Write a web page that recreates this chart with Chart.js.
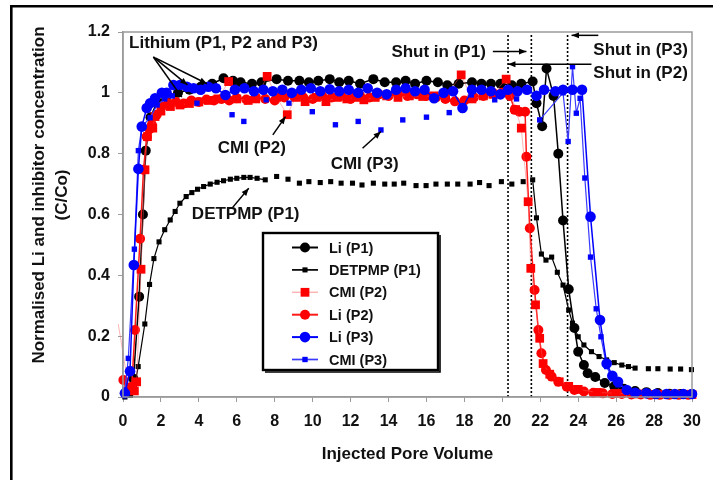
<!DOCTYPE html>
<html>
<head>
<meta charset="utf-8">
<script src="https://cdn.jsdelivr.net/npm/chart.js@4.4.0/dist/chart.umd.min.js"></script>
<style>
  html, body { margin: 0; padding: 0; background: #fff; }
  #wrap { width: 713px; height: 480px; }
</style>
</head>
<body>
<div id="wrap"><canvas id="poreChart" width="713" height="480"></canvas></div>
<script>
// values (x = injected pore volume, y = C/Co)
const liP1X = [0.3, 0.55, 0.85, 1.05, 1.2, 1.45, 1.8, 2.3, 2.9, 3.5, 4.1, 4.7, 5.3, 5.8, 6.2, 6.8, 7.3, 8.1, 8.7, 9.3, 9.8, 10.3, 10.9, 11.4, 11.9, 12.5, 13.2, 13.8, 14.4, 14.9, 15.4, 16.0, 16.6, 17.1, 17.7, 18.4, 18.9, 19.4, 19.9, 20.5, 21.0, 21.6, 21.8, 22.1, 22.33, 22.7, 22.95, 23.2, 23.5, 23.8, 24.0, 24.3, 24.5, 24.9, 25.4, 25.9, 26.4, 27.0, 27.6, 28.2, 28.8, 29.4, 30.0];
const liP1Y = [0.02, 0.06, 0.33, 0.60, 0.81, 0.92, 0.97, 0.99, 1.0, 1.01, 1.02, 1.03, 1.048, 1.04, 1.035, 1.03, 1.035, 1.045, 1.04, 1.04, 1.035, 1.04, 1.045, 1.035, 1.04, 1.03, 1.045, 1.035, 1.035, 1.04, 1.03, 1.04, 1.035, 1.025, 1.03, 1.035, 1.03, 1.03, 1.03, 1.025, 1.03, 1.037, 0.966, 0.89, 1.08, 0.99, 0.80, 0.58, 0.354, 0.227, 0.149, 0.105, 0.078, 0.066, 0.046, 0.035, 0.027, 0.02, 0.016, 0.013, 0.011, 0.01, 0.01];

const detpmpX = [0.1, 0.4, 0.6, 0.8, 1.15, 1.4, 1.63, 1.9, 2.2, 2.49, 2.75, 3.0, 3.33, 3.63, 3.93, 4.25, 4.6, 4.96, 5.3, 5.66, 6.0, 6.37, 6.7, 7.07, 7.5, 8.1, 8.7, 9.3, 9.8, 10.4, 10.95, 11.5, 12.1, 12.6, 13.2, 13.8, 14.3, 14.8, 15.45, 15.98, 16.5, 17.1, 17.65, 18.3, 18.8, 19.3, 19.95, 20.5, 21.1, 21.6, 21.8, 22.06, 22.3, 22.6, 22.9, 23.2, 23.5, 23.7, 24.0, 24.3, 24.7, 25.1, 25.5, 25.9, 26.3, 26.65, 27.0, 27.7, 28.2, 28.85, 29.4, 29.97];
const detpmpY = [0.0, 0.005, 0.03, 0.10, 0.24, 0.37, 0.455, 0.51, 0.55, 0.582, 0.61, 0.637, 0.659, 0.672, 0.683, 0.692, 0.70, 0.706, 0.711, 0.716, 0.719, 0.722, 0.722, 0.719, 0.714, 0.725, 0.716, 0.703, 0.708, 0.705, 0.708, 0.703, 0.703, 0.697, 0.703, 0.70, 0.70, 0.703, 0.695, 0.695, 0.70, 0.70, 0.70, 0.70, 0.705, 0.695, 0.708, 0.70, 0.708, 0.714, 0.589, 0.47, 0.45, 0.46, 0.41, 0.368, 0.286, 0.243, 0.198, 0.171, 0.149, 0.133, 0.122, 0.113, 0.105, 0.10, 0.095, 0.093, 0.093, 0.092, 0.092, 0.09];

const cmiP2X = [-0.25, 0.3, 0.6, 0.72, 0.95, 1.16, 1.29, 1.57, 1.69, 2.0, 2.5, 3.0, 3.5, 4.0, 4.5, 5.0, 5.57, 6.0, 6.6, 7.0, 7.6, 8.1, 8.66, 9.1, 9.6, 10.2, 10.7, 11.3, 11.8, 12.3, 12.7, 13.3, 13.9, 14.5, 15.1, 15.8, 16.4, 17.0, 17.83, 18.4, 19.0, 19.5, 20.2, 20.7, 21.0, 21.36, 21.5, 21.75, 21.97, 22.15, 22.5, 23.0, 23.5, 24.0, 25.0, 26.0, 27.0, 28.0, 29.0, 30.0];
const cmiP2Y = [0.24, 0.03, 0.02, 0.05, 0.42, 0.747, 0.856, 0.884, 0.922, 0.94, 0.955, 0.96, 0.965, 0.97, 0.975, 0.98, 1.037, 0.98, 0.975, 0.98, 1.054, 0.985, 0.928, 0.985, 0.971, 0.985, 0.971, 0.985, 0.98, 0.985, 0.977, 0.985, 0.99, 0.985, 0.99, 0.988, 0.99, 0.985, 1.059, 0.98, 0.99, 0.995, 1.045, 0.945, 0.884, 0.642, 0.423, 0.303, 0.193, 0.11, 0.075, 0.05, 0.035, 0.025, 0.015, 0.012, 0.01, 0.008, 0.008, 0.008];

const liP2X = [0.02, 0.46, 0.63, 0.9, 1.08, 1.25, 1.4, 1.52, 1.78, 2.05, 2.4, 2.8, 3.2, 3.6, 4.0, 4.4, 4.8, 5.2, 5.6, 6.0, 6.5, 7.0, 7.5, 8.0, 8.5, 9.0, 9.5, 10.0, 10.5, 11.0, 11.5, 12.0, 12.5, 13.0, 13.5, 14.0, 14.5, 15.0, 15.5, 16.0, 16.5, 17.0, 17.5, 18.0, 18.5, 19.0, 19.5, 20.0, 20.4, 20.65, 20.9, 21.2, 21.27, 21.45, 21.7, 21.9, 22.06, 22.3, 22.6, 22.95, 23.4, 23.8, 24.3, 24.8, 25.3, 25.8, 26.3, 26.8, 27.3, 27.8, 28.3, 28.8, 29.3, 29.8];
const liP2Y = [0.056, 0.034, 0.22, 0.52, 0.747, 0.856, 0.88, 0.895, 0.928, 0.955, 0.966, 0.97, 0.965, 0.975, 0.97, 0.978, 0.975, 0.98, 0.975, 0.982, 0.978, 0.985, 0.98, 0.975, 0.985, 0.99, 0.985, 0.98, 0.99, 0.985, 0.99, 0.98, 0.99, 0.985, 0.995, 0.99, 0.995, 0.99, 0.995, 0.99, 0.985, 0.98, 0.972, 0.975, 0.985, 0.99, 1.0, 1.0, 0.99, 0.944, 0.938, 0.938, 0.79, 0.555, 0.352, 0.22, 0.144, 0.089, 0.067, 0.05, 0.034, 0.023, 0.018, 0.014, 0.012, 0.01, 0.01, 0.008, 0.008, 0.007, 0.007, 0.007, 0.007, 0.007];

const liP3X = [0.1, 0.37, 0.57, 0.81, 0.99, 1.25, 1.43, 1.69, 2.05, 2.3, 2.66, 3.0, 3.37, 3.72, 4.1, 4.5, 4.9, 5.4, 5.9, 6.4, 6.9, 7.4, 7.9, 8.4, 8.9, 9.4, 9.9, 10.4, 10.9, 11.4, 11.9, 12.4, 12.9, 13.4, 13.9, 14.4, 14.9, 15.4, 15.9, 16.4, 16.9, 17.4, 17.9, 18.4, 18.9, 19.4, 19.9, 20.3, 20.8, 21.3, 21.8, 22.2, 22.8, 23.2, 23.7, 24.2, 24.65, 25.15, 25.5, 25.8, 26.1, 26.56, 27.0, 27.6, 28.1, 28.65, 29.1, 29.55, 30.0];
const liP3Y = [0.012, 0.085, 0.434, 0.75, 0.889, 0.95, 0.966, 0.982, 1.0, 1.0, 1.026, 1.026, 1.02, 1.015, 1.01, 1.02, 1.015, 0.993, 1.01, 1.015, 1.005, 1.01, 1.005, 1.01, 1.0, 1.01, 1.015, 1.005, 1.012, 1.005, 1.01, 1.0, 1.015, 1.0, 0.995, 1.01, 1.015, 1.005, 1.01, 0.982, 1.0, 1.005, 0.95, 1.01, 1.01, 1.005, 0.995, 1.01, 1.005, 1.01, 0.99, 1.01, 1.005, 1.01, 1.01, 1.01, 0.593, 0.253, 0.11, 0.07, 0.05, 0.023, 0.014, 0.012, 0.01, 0.01, 0.01, 0.01, 0.01];

const cmiP3X = [0.1, 0.28, 0.6, 0.81, 1.0, 1.43, 1.8, 2.2, 2.6, 3.9, 5.75, 6.37, 7.55, 8.75, 9.98, 11.2, 12.4, 13.6, 14.75, 16.0, 17.2, 18.36, 19.6, 20.75, 21.97, 23.2, 23.47, 23.7, 23.9, 24.1, 24.35, 24.65, 24.95, 25.2, 25.5, 25.8, 26.1, 26.6, 27.2, 28.0, 29.0, 30.0];
const cmiP3Y = [0.023, 0.127, 0.486, 0.81, 0.89, 0.918, 0.96, 0.98, 0.99, 0.966, 0.928, 0.906, 0.977, 0.966, 0.938, 0.895, 0.906, 0.878, 0.911, 0.92, 0.935, 0.993, 0.977, 0.98, 0.911, 1.0, 0.84, 1.086, 0.933, 0.982, 0.72, 0.46, 0.29, 0.198, 0.10, 0.06, 0.04, 0.025, 0.015, 0.012, 0.01, 0.01];

const xTicks = { min: 0, max: 30, step: 2 };
const yTicks = { min: 0, max: 1.2, step: 0.2 };
const shutInPV = [20.3, 21.53, 23.44];

const FONT = '"Liberation Sans", Arial, sans-serif';
const pts = (xs, ys) => xs.map((x, i) => ({ x, y: ys[i] }));
// hide the joining line where the original series was plotted as loose markers
const gaps = ranges => ctx =>
  ranges.some(([a, b]) => ctx.p0.parsed.x >= a && ctx.p1.parsed.x <= b) ? 'rgba(0,0,0,0)' : undefined;

const datasets = [
  { label: 'Li (P1)', data: pts(liP1X, liP1Y), borderColor: '#000', backgroundColor: '#000',
    borderWidth: 1.5, pointStyle: 'circle', markerSize: 5, order: 4 },
  { label: 'DETPMP (P1)', data: pts(detpmpX, detpmpY), borderColor: '#000', backgroundColor: '#000',
    borderWidth: 1.2, pointStyle: 'rect', markerSize: 3.6, order: 5,
    segment: { borderColor: gaps([[7.5, 21.6], [27, 31]]) } },
  { label: 'CMI (P2)', data: pts(cmiP2X, cmiP2Y), borderColor: 'rgba(255,90,90,0.45)', backgroundColor: '#ff0000',
    borderWidth: 1, pointStyle: 'rect', markerSize: 6.2, order: 2 },
  { label: 'Li (P2)', data: pts(liP2X, liP2Y), borderColor: '#ff1a1a', backgroundColor: '#ff0000',
    borderWidth: 1.5, pointStyle: 'circle', markerSize: 5, order: 3 },
  { label: 'Li (P3)', data: pts(liP3X, liP3Y), borderColor: '#0000ff', backgroundColor: '#0000ff',
    borderWidth: 1.5, pointStyle: 'circle', markerSize: 5.3, order: 0 },
  { label: 'CMI (P3)', data: pts(cmiP3X, cmiP3Y), borderColor: '#3a3aff', backgroundColor: '#0000ff',
    borderWidth: 1.2, pointStyle: 'rect', markerSize: 3.8, order: 1,
    segment: { borderColor: gaps([[2.6, 22.0]]) } },
];
datasets.forEach(d => {
  // points left of the axis only carry the line, not a marker
  d.pointRadius = c => (c.raw && c.raw.x < 0 ? 0 : d.markerSize);
  d.pointBorderColor = d.backgroundColor;
  d.pointBorderWidth = 0;
  d.tension = 0;
  d.clip = false;
});

// callouts, anchored in data units: [text, x, y]
const labels = [
  ['Lithium (P1, P2 and P3)', 0.32, 1.164],
  ['Shut in (P1)', 14.15, 1.134],
  ['Shut in (P3)', 24.8, 1.139],
  ['Shut in (P2)', 24.8, 1.065],
  ['CMI (P2)', 5.0, 0.818],
  ['CMI (P3)', 10.95, 0.766],
  ['DETPMP (P1)', 3.63, 0.599],
];
const arrows = [
  [1.6, 1.118, 3.1, 0.986],
  [1.6, 1.118, 3.4, 1.026],
  [1.7, 1.115, 4.43, 1.03],
  [7.9, 0.862, 8.57, 0.922],
  [12.63, 0.818, 13.6, 0.873],
  [5.75, 0.621, 6.63, 0.686],
  [19.5, 1.136, 21.27, 1.136],
  [25.06, 1.189, 23.65, 1.189],
  [24.7, 1.094, 20.3, 1.094],
];

function drawArrow(ctx, x1, y1, x2, y2) {
  const a = Math.atan2(y2 - y1, x2 - x1), h = 8;
  ctx.beginPath(); ctx.moveTo(x1, y1); ctx.lineTo(x2, y2); ctx.stroke();
  ctx.beginPath(); ctx.moveTo(x2, y2);
  ctx.lineTo(x2 - h * Math.cos(a - 0.38), y2 - h * Math.sin(a - 0.38));
  ctx.lineTo(x2 - h * Math.cos(a + 0.38), y2 - h * Math.sin(a + 0.38));
  ctx.closePath(); ctx.fill();
}

function drawMarker(ctx, style, r, x, y) {
  ctx.beginPath();
  if (style === 'rect') {
    const s = r * Math.SQRT1_2;
    ctx.rect(x - s, y - s, 2 * s, 2 * s);
  } else {
    ctx.arc(x, y, r, 0, Math.PI * 2);
  }
  ctx.fill();
}

const decor = {
  id: 'decor',
  beforeDraw(chart) {
    const { ctx, width, height } = chart;
    ctx.save();
    ctx.fillStyle = '#fff';
    ctx.fillRect(0, 0, width, height);
    ctx.strokeStyle = '#000';
    ctx.lineWidth = 2.6;
    ctx.beginPath();
    ctx.moveTo(11.3, height); ctx.lineTo(11.3, 6.3); ctx.lineTo(width, 6.3);
    ctx.stroke();
    ctx.restore();
  },
  beforeDatasetsDraw(chart) {
    const { ctx, chartArea: a, scales: { x, y } } = chart;
    ctx.save();
    ctx.strokeStyle = '#000';
    ctx.lineWidth = 1.6;
    ctx.setLineDash([2, 2]);
    shutInPV.forEach(v => {
      const px = x.getPixelForValue(v);
      ctx.beginPath(); ctx.moveTo(px, y.getPixelForValue(0)); ctx.lineTo(px, a.top + 2); ctx.stroke();
    });
    ctx.restore();
  },
  afterDatasetsDraw(chart) {
    const { ctx, chartArea: a, scales: { x, y } } = chart;
    ctx.save();
    // plot frame
    ctx.strokeStyle = '#9a9a9a';
    ctx.lineWidth = 1.5;
    ctx.strokeRect(a.left, a.top, a.right - a.left, a.bottom - a.top);

    ctx.strokeStyle = '#000';
    ctx.fillStyle = '#000';
    ctx.lineWidth = 1.5;
    arrows.forEach(([x1, y1, x2, y2]) =>
      drawArrow(ctx, x.getPixelForValue(x1), y.getPixelForValue(y1), x.getPixelForValue(x2), y.getPixelForValue(y2)));

    ctx.font = 'bold 17px ' + FONT;
    ctx.fillStyle = '#111';
    ctx.textAlign = 'left';
    ctx.textBaseline = 'middle';
    labels.forEach(([t, lx, ly]) => ctx.fillText(t, x.getPixelForValue(lx), y.getPixelForValue(ly)));

    // y axis title
    ctx.textAlign = 'center';
    ctx.translate(39, 195);
    ctx.rotate(-Math.PI / 2);
    ctx.fillText('Normalised Li and inhibitor concentration', 0, 0);
    ctx.fillText('(C/Co)', 0, 23);
    ctx.restore();

    // legend box
    const lx = a.left + 140, ly = a.top + 201, lw = 175, lh = 137;
    ctx.save();
    ctx.fillStyle = '#fff';
    ctx.fillRect(lx, ly, lw, lh);
    ctx.strokeStyle = '#000';
    ctx.lineWidth = 2.4;
    ctx.strokeRect(lx, ly, lw, lh);
    ctx.lineWidth = 1.6;
    ctx.beginPath();
    ctx.moveTo(lx + 2, ly + lh + 2); ctx.lineTo(lx + lw + 2, ly + lh + 2); ctx.lineTo(lx + lw + 2, ly + 2);
    ctx.stroke();
    ctx.font = 'bold 14.5px ' + FONT;
    ctx.textAlign = 'left';
    ctx.textBaseline = 'middle';
    chart.data.datasets.forEach((d, i) => {
      const ry = ly + 14.5 + i * 22.4;
      ctx.strokeStyle = d.borderColor;
      ctx.lineWidth = d.borderWidth + 0.5;
      ctx.beginPath(); ctx.moveTo(lx + 29, ry); ctx.lineTo(lx + 55, ry); ctx.stroke();
      ctx.fillStyle = d.backgroundColor;
      drawMarker(ctx, d.pointStyle, d.markerSize, lx + 42, ry);
      ctx.fillStyle = '#111';
      ctx.fillText(d.label, lx + 66, ry + 1);
    });
    ctx.restore();
  }
};

new Chart(document.getElementById('poreChart'), {
  type: 'line',
  data: { datasets },
  options: {
    responsive: false,
    animation: false,
    layout: { padding: { top: 32, right: 21, left: 0, bottom: 0 } },
    plugins: { legend: { display: false }, tooltip: { enabled: false } },
    scales: {
      x: {
        type: 'linear', min: xTicks.min, max: xTicks.max,
        afterFit: s => { s.height = 83; },
        ticks: { stepSize: xTicks.step, color: '#111', padding: 10, font: { family: FONT, size: 16, weight: 'bold' } },
        grid: { drawOnChartArea: false, tickLength: 5, color: '#9a9a9a' },
        border: { color: '#9a9a9a', width: 1.5 },
        title: { display: true, text: 'Injected Pore Volume', color: '#111', padding: { top: 0, bottom: 15 },
          font: { family: FONT, size: 17, weight: 'bold' } }
      },
      y: {
        min: yTicks.min, max: yTicks.max,
        afterFit: s => { s.width = 123; },
        ticks: { stepSize: yTicks.step, color: '#111', padding: 8,
          callback: v => String(Math.round(v * 10) / 10),
          font: { family: FONT, size: 16, weight: 'bold' } },
        grid: { drawOnChartArea: false, tickLength: 5, color: '#9a9a9a' },
        border: { color: '#9a9a9a', width: 1.5 }
      }
    }
  },
  plugins: [decor]
});
</script>
</body>
</html>
